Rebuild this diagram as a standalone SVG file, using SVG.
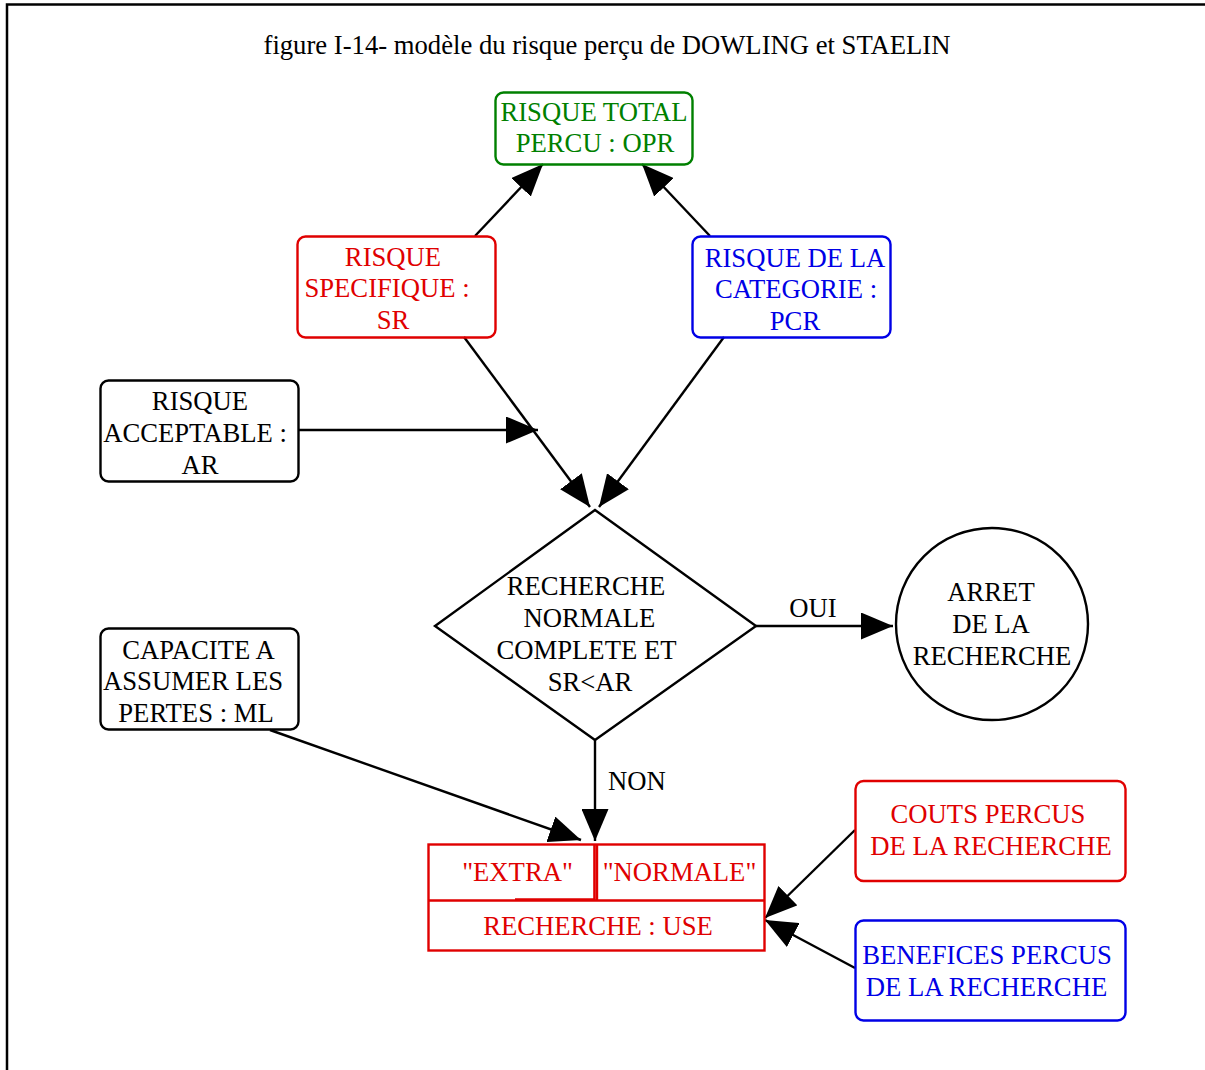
<svg xmlns="http://www.w3.org/2000/svg" width="1205" height="1070" viewBox="0 0 1205 1070">
  <style>
    text { font-family: "Liberation Serif", "Times New Roman", serif; font-size: 26.67px; text-anchor: middle; }
    .box { fill: none; stroke-width: 2.4; }
    .black { stroke: #000; }
    .red { stroke: #e00000; }
    .blue { stroke: #0000e6; }
    .green { stroke: #008000; }
    .t-black { fill: #000; }
    .t-red { fill: #e00000; }
    .t-blue { fill: #0000e6; }
    .t-green { fill: #008000; }
    .edge { fill: none; stroke: #000; stroke-width: 2.4; marker-end: url(#arrow); }
  </style>
  <defs>
    <marker id="arrow" markerUnits="userSpaceOnUse" markerWidth="33" markerHeight="27" refX="32" refY="13.5" orient="auto">
      <path d="M0,0 L32,13.5 L0,27 z" fill="#000"/>
    </marker>
  </defs>

  <rect width="1205" height="1070" fill="#fff"/>
  <!-- page frame -->
  <path d="M7,1070 V4.5 H1205" fill="none" stroke="#000" stroke-width="2.5"/>

  <text id="title" x="607" y="54" class="t-black">figure I-14- modèle du risque perçu de DOWLING et STAELIN</text>

  <g id="connectors">
    <path class="edge" d="M475,236 L543,164"/>
    <path class="edge" d="M710,236 L642,164"/>
    <path class="edge" d="M464,337 L590,507"/>
    <path class="edge" d="M724,337 L599,507"/>
    <path class="edge" d="M298,430 L538,430"/>
    <path class="edge" d="M756,626 L893,626"/>
    <path class="edge" d="M595,740 L595,841"/>
    <path class="edge" d="M270,730 L581,840"/>
    <path class="edge" d="M855,830 L765,918"/>
    <path class="edge" d="M855,968 L765,920"/>
    <text x="813" y="617" class="t-black">OUI</text>
    <text x="637" y="790" class="t-black">NON</text>
  </g>

  <g id="opr">
    <rect class="box green" x="495.5" y="92.5" width="197" height="72" rx="8"/>
    <text x="594" y="121" class="t-green">RISQUE TOTAL</text>
    <text x="595" y="152" class="t-green">PERCU : OPR</text>
  </g>

  <g id="sr">
    <rect class="box red" x="297.5" y="236.5" width="198" height="101" rx="8"/>
    <text x="393" y="266" class="t-red">RISQUE</text>
    <text x="387" y="297" class="t-red">SPECIFIQUE :</text>
    <text x="393" y="329" class="t-red">SR</text>
  </g>

  <g id="pcr">
    <rect class="box blue" x="692.5" y="236.5" width="198" height="101" rx="8"/>
    <text x="795" y="267" class="t-blue">RISQUE DE LA</text>
    <text x="796" y="298" class="t-blue">CATEGORIE :</text>
    <text x="795" y="330" class="t-blue">PCR</text>
  </g>

  <g id="ar">
    <rect class="box black" x="100.5" y="380.5" width="198" height="101" rx="8"/>
    <text x="200" y="410" class="t-black">RISQUE</text>
    <text x="195" y="442" class="t-black">ACCEPTABLE :</text>
    <text x="200" y="474" class="t-black">AR</text>
  </g>

  <g id="ml">
    <rect class="box black" x="100.5" y="628.5" width="198" height="101" rx="8"/>
    <text x="198.5" y="659" class="t-black">CAPACITE A</text>
    <text x="193" y="690" class="t-black">ASSUMER LES</text>
    <text x="196" y="722" class="t-black">PERTES : ML</text>
  </g>

  <g id="decision">
    <polygon class="box black" points="595,510 756,626 595,740 435,626"/>
    <text x="586" y="595" class="t-black">RECHERCHE</text>
    <text x="589.5" y="627" class="t-black">NORMALE</text>
    <text x="586.5" y="659" class="t-black">COMPLETE ET</text>
    <text x="590" y="691" class="t-black">SR&lt;AR</text>
  </g>

  <g id="stop">
    <circle class="box black" cx="992" cy="624" r="96"/>
    <text x="991" y="601" class="t-black">ARRET</text>
    <text x="991" y="633" class="t-black">DE LA</text>
    <text x="992" y="665" class="t-black">RECHERCHE</text>
  </g>

  <g id="use">
    <rect class="box red" x="428.5" y="844.5" width="336" height="106"/>
    <path class="box red" d="M428.5,900.5 H764.5 M597,844.5 V900.5"/>
    <path class="red" d="M515,899.5 H594.5 V844.5" fill="none" stroke-width="2.6"/>
    <text x="517.5" y="881" class="t-red">"EXTRA"</text>
    <text x="679.5" y="881" class="t-red">"NORMALE"</text>
    <text x="598" y="935" class="t-red">RECHERCHE : USE</text>
  </g>

  <g id="costs">
    <rect class="box red" x="855.5" y="781" width="270" height="100" rx="8"/>
    <text x="988" y="823" class="t-red">COUTS PERCUS</text>
    <text x="991" y="855" class="t-red">DE LA RECHERCHE</text>
  </g>

  <g id="benefits">
    <rect class="box blue" x="855.5" y="920.5" width="270" height="100" rx="8"/>
    <text x="987" y="964" class="t-blue">BENEFICES PERCUS</text>
    <text x="986.5" y="996" class="t-blue">DE LA RECHERCHE</text>
  </g>
</svg>
